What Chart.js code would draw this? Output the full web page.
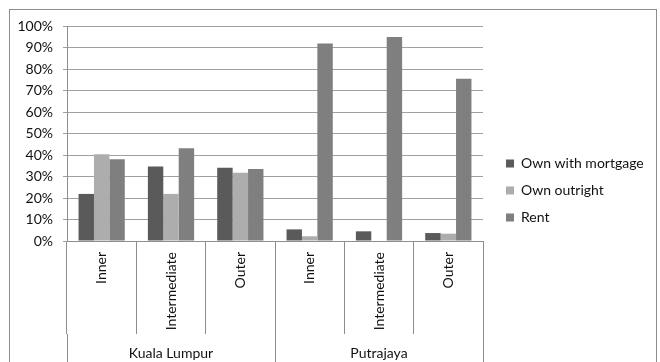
<!DOCTYPE html>
<html>
<head>
<meta charset="utf-8">
<script src="https://cdn.jsdelivr.net/npm/chart.js@4.4.1/dist/chart.umd.min.js"></script>
<style>
  html, body { margin: 0; padding: 0; background: #ffffff; }
  canvas { display: block; }
</style>
</head>
<body>
<canvas id="tenure" width="660" height="362"></canvas>
<script>
// Housing tenure by zone, share of households (%)
const categories = ['Inner', 'Intermediate', 'Outer', 'Inner', 'Intermediate', 'Outer'];
const cities = ['Kuala Lumpur', 'Putrajaya'];
const seriesNames = ['Own with mortgage', 'Own outright', 'Rent'];
const ownWithMortgage = [21.9, 34.6, 34.1, 5.4, 4.5, 3.7];
const ownOutright = [40.3, 21.9, 31.8, 2.2, 0, 3.4];
const rent = [38.0, 43.1, 33.5, 91.9, 94.9, 75.5];
const yTickValues = [0, 10, 20, 30, 40, 50, 60, 70, 80, 90, 100];

const FONT = 'Lato, "Open Sans", sans-serif';
const FONT_SIZE = 14;
const TEXT = '#111111';
const LINE = '#8e8e8e';
const GRID = '#a0a0a0';
const COLORS = ['#5a5a5a', '#adadad', '#7f7f7f'];

// Legend geometry: the legend width is measured so the plot keeps its right edge.
// Chart.js adds 10px to the width of a vertical legend.
const LEGEND_PAD = 13, BOX = 8, LEGEND_SHIFT_X = 10, LEGEND_TRIM_BOTTOM = 7, PLOT_RIGHT = 483;
const mctx = document.createElement('canvas').getContext('2d');
mctx.font = FONT_SIZE + 'px ' + FONT;
const widest = Math.max(...seriesNames.map(n => mctx.measureText(n).width));
const legendWidth = LEGEND_PAD + BOX + FONT_SIZE / 2 + widest + 10;
const padRight = Math.max(0, 660 - PLOT_RIGHT - legendWidth);

// White page and the thin frame round the chart object
const framePlugin = {
  id: 'frame',
  beforeDraw(chart) {
    const ctx = chart.ctx;
    ctx.save();
    ctx.fillStyle = '#ffffff';
    ctx.fillRect(0, 0, chart.width, chart.height);
    ctx.strokeStyle = LINE;
    ctx.lineWidth = 1;
    ctx.strokeRect(9.5, 9.5, 647, 420);
    ctx.restore();
  }
};

// Nudge the legend: a small gap from the plot area, and centred a little higher
const legendNudge = {
  id: 'legendNudge',
  afterLayout(chart) {
    const lg = chart.legend;
    if (!lg) return;
    lg.left += LEGEND_SHIFT_X; lg.right += LEGEND_SHIFT_X;
    lg.bottom -= LEGEND_TRIM_BOTTOM;
  }
};

const values = [ownWithMortgage, ownOutright, rent];

new Chart(document.getElementById('tenure'), {
  type: 'bar',
  data: {
    labels: categories,
    datasets: seriesNames.map((name, i) => ({
      label: name,
      data: values[i],
      backgroundColor: COLORS[i],
      borderWidth: 0,
      categoryPercentage: 0.667,
      barPercentage: 1.0,
      xAxisID: 'x',
      yAxisID: 'y'
    }))
  },
  options: {
    responsive: false,
    animation: false,
    devicePixelRatio: 1,
    layout: { padding: { left: 0, right: padRight, top: 26, bottom: 0 } },
    plugins: {
      tooltip: { enabled: false },
      legend: {
        position: 'right',
        align: 'center',
        maxWidth: 220,
        labels: {
          boxWidth: BOX,
          boxHeight: BOX,
          padding: LEGEND_PAD,
          color: TEXT,
          font: { family: FONT, size: FONT_SIZE }
        }
      }
    },
    scales: {
      x: {
        type: 'category',
        position: 'bottom',
        offset: true,
        grid: {
          display: true,
          offset: true,
          drawOnChartArea: false,
          drawTicks: true,
          tickLength: 93,
          color: LINE
        },
        border: { display: true, color: LINE },
        ticks: {
          autoSkip: false,
          minRotation: 90,
          maxRotation: 90,
          padding: -82,
          color: TEXT,
          font: { family: FONT, size: FONT_SIZE }
        },
        afterFit(s) { s.height = 93; }
      },
      x2: {
        type: 'category',
        position: 'bottom',
        labels: cities,
        offset: true,
        grid: {
          display: true,
          offset: true,
          drawOnChartArea: false,
          drawTicks: true,
          tickLength: 30,
          color: LINE
        },
        border: { display: false },
        ticks: {
          autoSkip: false,
          maxRotation: 0,
          padding: -19,
          color: TEXT,
          font: { family: FONT, size: FONT_SIZE }
        },
        afterFit(s) { s.height = 28; }
      },
      y: {
        type: 'linear',
        position: 'left',
        min: 0,
        max: 100,
        afterBuildTicks(s) { s.ticks = yTickValues.map(v => ({ value: v })); },
        grid: { color: GRID, tickLength: 4, drawTicks: true },
        border: { display: true, color: LINE },
        ticks: {
          padding: 10,
          color: TEXT,
          font: { family: FONT, size: FONT_SIZE },
          callback: v => v + '%'
        },
        afterFit(s) { s.width = 67; }
      }
    }
  },
  plugins: [framePlugin, legendNudge]
});
</script>
</body>
</html>
